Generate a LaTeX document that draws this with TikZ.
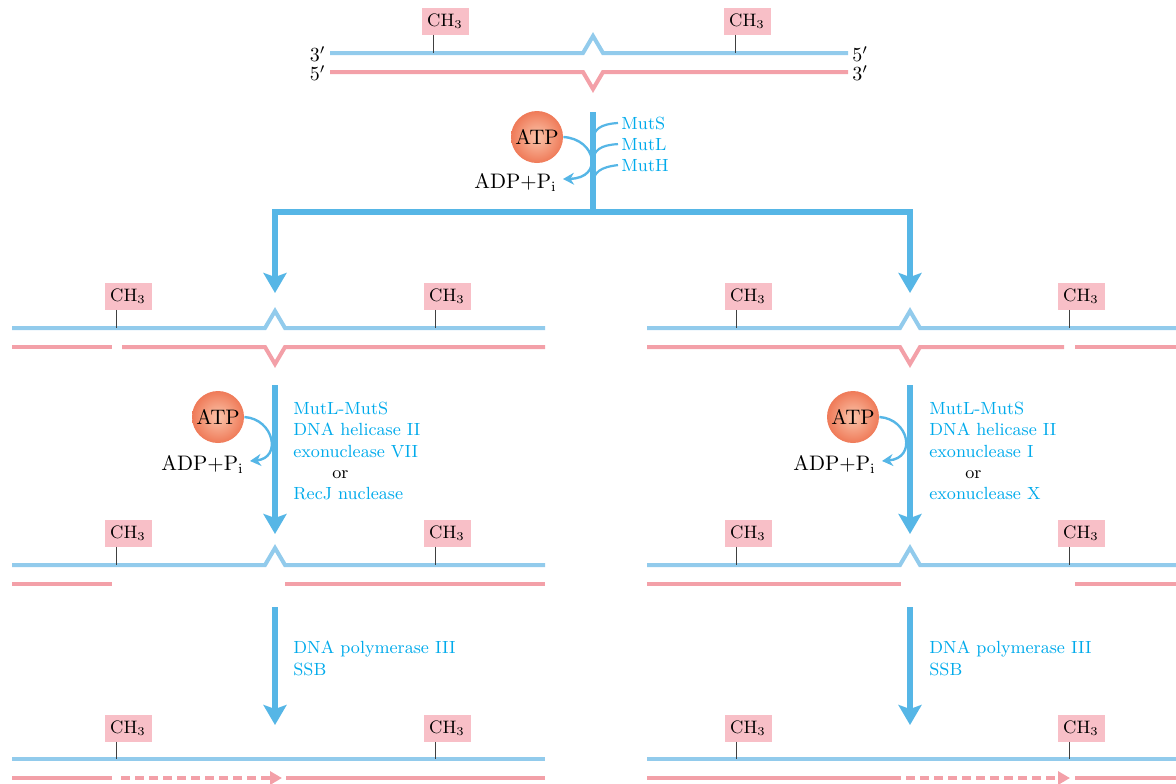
\documentclass[tikz,border=0pt]{standalone}
\usetikzlibrary{arrows.meta}
\definecolor{sblue}{RGB}{146,203,236}
\definecolor{sred}{RGB}{243,160,168}
\definecolor{ablue}{RGB}{86,182,230}
\definecolor{tblue}{RGB}{0,170,235}
\definecolor{chfill}{RGB}{248,191,199}
\definecolor{atpin}{RGB}{251,196,170}
\definecolor{atpout}{RGB}{239,122,88}
\begin{document}
\begin{tikzpicture}[x=0.5pt,y=-0.5pt,
 sb/.style={draw=sblue,line width=2pt},
 sr/.style={draw=sred,line width=2pt},
 srd/.style={draw=sred,line width=2pt,dash pattern=on 4.5pt off 2.5pt,-{Triangle[length=6pt,width=6.5pt]}},
 chbox/.style={fill=chfill,minimum width=23.5pt,minimum height=13.5pt,inner sep=0pt,font=\fontsize{9}{10}\selectfont},
 tk/.style={draw=black!75,line width=0.5pt},
 shaft/.style={draw=ablue,line width=2.6pt},
 bigarrow/.style={draw=ablue,line width=2.6pt,-{Stealth[length=10pt,width=11.5pt,inset=2pt]}},
 curvearr/.style={draw=ablue,line width=1.2pt,-{Stealth[length=5.5pt,width=6pt]}},
 branch/.style={draw=ablue,line width=1.1pt},
 atp/.style={circle,minimum size=26pt,inner sep=0pt,inner color=atpin,outer color=atpout,font=\fontsize{10.5}{12}\selectfont},
 lbl/.style={text=tblue,anchor=base west,inner sep=0pt,font=\fontsize{8.8}{10}\selectfont},
 blk/.style={anchor=base west,inner sep=0pt,font=\fontsize{8.8}{10}\selectfont},
 adp/.style={anchor=base east,inner sep=0pt,font=\fontsize{10.5}{12}\selectfont},
 prm/.style={inner sep=0pt,font=\fontsize{10}{12}\selectfont}
]
\useasboundingbox (0,0) rectangle (1176,783);

% ---------- top duplex ----------
\draw[sb] (330,53) -- (583,53) -- (593,36) -- (603,53) -- (848,53);
\draw[sr] (330,72) -- (583,72) -- (593,89) -- (603,72) -- (848,72);
\node[prm,anchor=east] (t3) at (326,54) {$3'$};
\node[prm,anchor=east] (t5) at (326,73) {$5'$};
\node[prm,anchor=west] (r5) at (852,54) {$5'$};
\node[prm,anchor=west] (r3) at (852,73) {$3'$};
\node[chbox] (c1) at (445,21) {CH$_3$};
\node[chbox] (c2) at (747,21) {CH$_3$};
\coordinate (k1) at (433,53); \coordinate (k2) at (735,53);
\draw[tk] (c1.south -| k1) -- (k1);
\draw[tk] (c2.south -| k2) -- (k2);

% ---------- first step ----------
\coordinate (mtop) at (593,112);
\coordinate (junc) at (593,212);
\coordinate (l2) at (275,293);
\coordinate (r2) at (910,293);
\draw[shaft] (mtop) -- (junc);
\draw[bigarrow] (junc) -| (l2);
\draw[bigarrow] (junc) -| (r2);
\node[lbl] (muts) at (621,129) {MutS};
\node[lbl] (mutl) at (621,150) {MutL};
\node[lbl] (muth) at (621,171) {MutH};
\draw[branch] (593,141) .. controls (593,129) and (601,124) .. ([xshift=-1.5pt]muts.west);
\draw[branch] (593,162) .. controls (593,150) and (601,145) .. ([xshift=-1.5pt]mutl.west);
\draw[branch] (593,184) .. controls (593,172) and (601,167) .. ([xshift=-1.5pt]muth.west);
\node[atp] (atp0) at (537,137) {ATP};
\node[adp] (adp0) at (557,188) {ADP+P$_\mathrm{i}$};
\draw[curvearr] (atp0.east) .. controls (596,139) and (604,178) .. ([xshift=3pt,yshift=4.5pt]adp0.base east);

% ---------- row 2 ----------
\draw[sb] (12,328) -- (265,328) -- (275,311) -- (285,328) -- (545,328);
\draw[sr] (12,347) -- (112,347);
\draw[sr] (122,347) -- (265,347) -- (275,364) -- (285,347) -- (545,347);
\draw[sb] (647,328) -- (900,328) -- (910,311) -- (920,328) -- (1176,328);
\draw[sr] (647,347) -- (900,347) -- (910,364) -- (920,347) -- (1064,347);
\draw[sr] (1075,347) -- (1176,347);
\node[chbox] (c3) at (128,296) {CH$_3$};
\node[chbox] (c4) at (447,296) {CH$_3$};
\node[chbox] (c5) at (748,296) {CH$_3$};
\node[chbox] (c6) at (1081,296) {CH$_3$};
\coordinate (k3) at (116,328); \coordinate (k4) at (435,328);
\coordinate (k5) at (736,328); \coordinate (k6) at (1069,328);
\draw[tk] (c3.south -| k3) -- (k3);
\draw[tk] (c4.south -| k4) -- (k4);
\draw[tk] (c5.south -| k5) -- (k5);
\draw[tk] (c6.south -| k6) -- (k6);

% ---------- step 2 (left) ----------
\coordinate (la) at (275,385); \coordinate (lb) at (275,534);
\draw[bigarrow] (la) -- (lb);
\node[atp] (atp1) at (218,417) {ATP};
\node[adp] (adp1) at (244,470) {ADP+P$_\mathrm{i}$};
\draw[curvearr] (atp1.east) .. controls (274,419) and (282,458) .. ([xshift=3pt,yshift=4.5pt]adp1.base east);
\node[lbl] (e1) at (293,414) {MutL-MutS};
\node[lbl] (e2) at (293,435.5) {DNA helicase II};
\node[lbl] (e3) at (293,457) {exonuclease VII};
\node[blk] (e4) at (332,478) {or};
\node[lbl] (e5) at (293,499.5) {RecJ nuclease};

% ---------- step 2 (right) ----------
\coordinate (ra) at (910,385); \coordinate (rb) at (910,534);
\draw[bigarrow] (ra) -- (rb);
\node[atp] (atp2) at (853,417) {ATP};
\node[adp] (adp2) at (876,470) {ADP+P$_\mathrm{i}$};
\draw[curvearr] (atp2.east) .. controls (909,419) and (917,458) .. ([xshift=3pt,yshift=4.5pt]adp2.base east);
\node[lbl] (f1) at (929,414) {MutL-MutS};
\node[lbl] (f2) at (929,435.5) {DNA helicase II};
\node[lbl] (f3) at (929,457) {exonuclease I};
\node[blk] (f4) at (965,478) {or};
\node[lbl] (f5) at (929,499.5) {exonuclease X};

% ---------- row 3 ----------
\draw[sb] (12,565) -- (265,565) -- (275,548) -- (285,565) -- (545,565);
\draw[sr] (12,584) -- (112,584);
\draw[sr] (285,584) -- (545,584);
\draw[sb] (647,565) -- (900,565) -- (910,548) -- (920,565) -- (1176,565);
\draw[sr] (647,584) -- (901,584);
\draw[sr] (1075,584) -- (1176,584);
\node[chbox] (c7) at (128,533) {CH$_3$};
\node[chbox] (c8) at (447,533) {CH$_3$};
\node[chbox] (c9) at (748,533) {CH$_3$};
\node[chbox] (c10) at (1081,533) {CH$_3$};
\coordinate (k7) at (116,565); \coordinate (k8) at (435,565);
\coordinate (k9) at (736,565); \coordinate (k10) at (1069,565);
\draw[tk] (c7.south -| k7) -- (k7);
\draw[tk] (c8.south -| k8) -- (k8);
\draw[tk] (c9.south -| k9) -- (k9);
\draw[tk] (c10.south -| k10) -- (k10);

% ---------- step 3 ----------
\coordinate (lc) at (275,607); \coordinate (ld) at (275,725);
\draw[bigarrow] (lc) -- (ld);
\node[lbl] (g1) at (293,653.5) {DNA polymerase III};
\node[lbl] (g2) at (293,675) {SSB};
\coordinate (rc) at (910,607); \coordinate (rd) at (910,725);
\draw[bigarrow] (rc) -- (rd);
\node[lbl] (h1) at (929,653.5) {DNA polymerase III};
\node[lbl] (h2) at (929,675) {SSB};

% ---------- row 4 ----------
\draw[sb] (12,759) -- (545,759);
\draw[sr] (12,778) -- (112,778);
\coordinate (d1) at (121,778); \coordinate (d2) at (282,778);
\draw[srd] (d1) -- (d2);
\draw[sr] (286,778) -- (545,778);
\draw[sb] (647,759) -- (1176,759);
\draw[sr] (647,778) -- (901,778);
\coordinate (d3) at (906,778); \coordinate (d4) at (1070,778);
\draw[srd] (d3) -- (d4);
\draw[sr] (1075,778) -- (1176,778);
\node[chbox] (c11) at (128,728) {CH$_3$};
\node[chbox] (c12) at (447,728) {CH$_3$};
\node[chbox] (c13) at (748,728) {CH$_3$};
\node[chbox] (c14) at (1081,728) {CH$_3$};
\coordinate (k11) at (116,759); \coordinate (k12) at (435,759);
\coordinate (k13) at (736,759); \coordinate (k14) at (1069,759);
\draw[tk] (c11.south -| k11) -- (k11);
\draw[tk] (c12.south -| k12) -- (k12);
\draw[tk] (c13.south -| k13) -- (k13);
\draw[tk] (c14.south -| k14) -- (k14);
\end{tikzpicture}
\end{document}
